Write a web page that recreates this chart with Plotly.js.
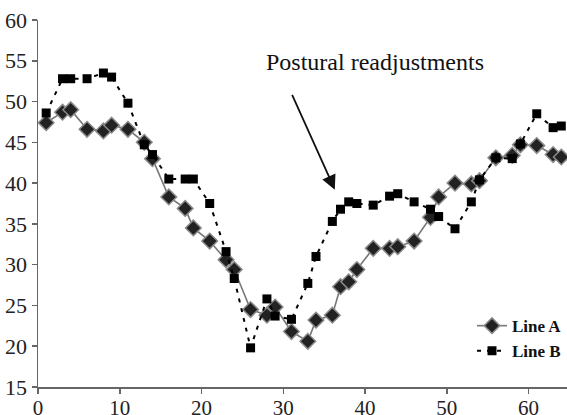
<!DOCTYPE html>
<html>
<head>
<meta charset="utf-8">
<script src="https://cdn.plot.ly/plotly-3.0.1.min.js"></script>
<style>
html,body{margin:0;padding:0;background:#fff;}
#chart{width:567px;height:415px;}
</style>
</head>
<body>
<div id="chart"></div>
<script>
const xValues = [1,3,4,6,8,9,11,13,14,16,18,19,21,23,24,26,28,29,31,33,34,36,37,38,39,41,43,44,46,48,49,51,53,54,56,58,59,61,63,64];
const lineA = [47.4,48.7,49.0,46.6,46.4,47.1,46.6,45.0,43.0,38.3,36.9,34.5,32.9,30.6,29.4,24.5,23.8,24.8,21.8,20.6,23.2,23.8,27.3,27.9,29.4,32.0,32.0,32.2,32.9,35.8,38.3,40.0,39.9,40.3,43.1,43.4,44.7,44.6,43.5,43.2];
const lineB = [48.6,52.8,52.8,52.8,53.5,53.0,49.8,44.7,43.5,40.5,40.5,40.5,37.5,31.6,28.3,19.8,25.8,23.7,23.3,27.7,31.0,35.3,36.8,37.7,37.5,37.3,38.4,38.7,37.7,36.8,35.9,34.4,37.7,40.4,43.1,43.0,44.8,48.5,46.8,47.0];
const seriesNames = ["Line A", "Line B"];
const xTicks = [0,10,20,30,40,50,60];
const yTicks = [15,20,25,30,35,40,45,50,55,60];
const annText = "Postural readjustments";

const serif = "Liberation Serif, Times New Roman, serif";

const traces = [
  {
    x: xValues, y: lineA, name: seriesNames[0], type: "scatter", mode: "lines+markers",
    line: {color: "#777777", width: 1.6},
    marker: {symbol: "diamond", size: 12, color: "#222222", line: {color: "#8a8a8a", width: 1.5}}
  },
  {
    x: xValues, y: lineB, name: seriesNames[1], type: "scatter", mode: "lines+markers",
    line: {color: "#000000", width: 2, dash: "4px,6px"},
    marker: {symbol: "square", size: 9, color: "#000000"}
  }
];

const layout = {
  width: 567, height: 415,
  margin: {l: 38, r: 0, t: 20, b: 28},
  paper_bgcolor: "#ffffff", plot_bgcolor: "#ffffff",
  showlegend: true,
  legend: {
    x: 1, xanchor: "right", y: 0.215, yanchor: "top",
    bgcolor: "rgba(0,0,0,0)",
    font: {family: serif, size: 17, color: "#111", weight: "bold"},
    itemwidth: 30, tracegroupgap: 0
  },
  xaxis: {
    range: [0, 64.7], tickvals: xTicks, ticktext: xTicks.map(String),
    showgrid: false, zeroline: false, showline: true, linecolor: "#666", linewidth: 1.5,
    ticks: "outside", ticklen: 5, tickcolor: "#666", tickwidth: 1.5,
    ticklabelstandoff: -4,
    tickfont: {family: serif, size: 21, color: "#222"}
  },
  yaxis: {
    range: [15, 60], tickvals: yTicks, ticktext: yTicks.map(String),
    showgrid: false, zeroline: false, showline: true, linecolor: "#666", linewidth: 1.5,
    ticks: "outside", ticklen: 5, tickcolor: "#666", tickwidth: 1.5,
    tickfont: {family: serif, size: 22, color: "#222"}
  },
  annotations: [
    {
      x: 41.2, y: 54.8, xref: "x", yref: "y", text: annText, showarrow: false,
      font: {family: serif, size: 24, color: "#111"}
    },
    {
      x: 36.3, y: 39.2, ax: 31.0, ay: 51.0, xref: "x", yref: "y", axref: "x", ayref: "y",
      text: "", showarrow: true, arrowhead: 2, arrowsize: 1.6, arrowwidth: 1.8, arrowcolor: "#111"
    }
  ]
};

Plotly.newPlot("chart", traces, layout, {displayModeBar: false, staticPlot: true});
</script>
</body>
</html>
